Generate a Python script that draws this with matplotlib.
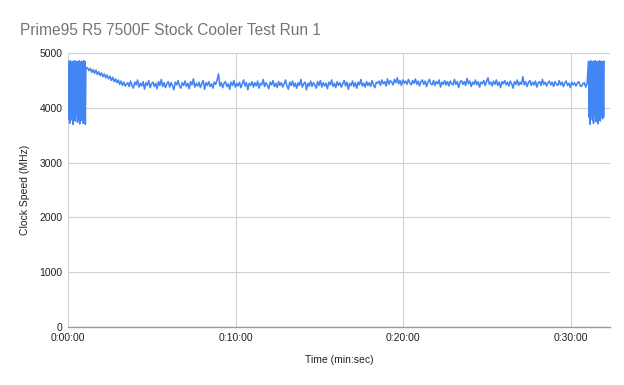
import numpy as np
import matplotlib
matplotlib.use("Agg")
import matplotlib.pyplot as plt
from matplotlib.ticker import FuncFormatter

plt.rcParams['font.family'] = ['Liberation Sans', 'DejaVu Sans']

title = "Prime95 R5 7500F Stock Cooler Test Run 1"
x_label = "Time (min:sec)"
y_label = "Clock Speed (MHz)"

# Start burst (0-64 s, every 2 s)
burst_start_t0, burst_start_step = 0, 2
burst_start = [4850, 3800, 4840, 3720, 4860, 3850, 4830, 3780, 4850, 3700,
               4840, 3820, 4860, 3760, 4830, 3880, 4850, 3740, 4840, 3800,
               4860, 3710, 4830, 3850, 4850, 3770, 4840, 3720, 4860, 3830,
               4850, 3700, 4740]

# Decay (70-205 s, every 5 s)
decay_t0, decay_step = 70, 5
decay = [4730, 4680, 4720, 4650, 4700, 4630, 4690, 4610, 4660, 4590,
         4640, 4570, 4620, 4550, 4600, 4530, 4580, 4500, 4560, 4480,
         4530, 4460, 4510, 4430, 4490, 4410, 4470, 4400]

# Steady load (214 s onward, every 5 s)
steady_t0, steady_step = 214, 5
steady = [4460, 4390, 4490, 4410, 4360, 4470, 4420, 4510, 4380, 4450,
          4400, 4480, 4340, 4460, 4410, 4500, 4370, 4440, 4470, 4390,
          4450, 4350, 4480, 4410, 4520, 4390, 4460, 4370, 4440, 4480,
          4380, 4460, 4410, 4330, 4470, 4420, 4500, 4400, 4360, 4460,
          4410, 4490, 4390, 4450, 4350, 4480, 4420, 4530, 4380, 4450,
          4400, 4470, 4370, 4440, 4500, 4340, 4460, 4410, 4480, 4390,
          4440, 4360, 4470, 4430, 4510, 4620, 4400, 4460, 4370, 4450,
          4480, 4390, 4440, 4340, 4470, 4410, 4500, 4380, 4450, 4400,
          4470, 4370, 4440, 4510, 4400, 4460, 4330, 4450, 4410, 4480,
          4380, 4460, 4400, 4490, 4360, 4450, 4420, 4520, 4390, 4460,
          4410, 4350, 4470, 4420, 4500, 4390, 4450, 4370, 4480, 4410,
          4460, 4380, 4440, 4510, 4400, 4340, 4470, 4410, 4490, 4390,
          4450, 4360, 4460, 4410, 4520, 4380, 4440, 4470, 4330, 4450,
          4400, 4490, 4390, 4460, 4420, 4360, 4480, 4410, 4500, 4380,
          4460, 4400, 4450, 4350, 4470, 4420, 4510, 4390, 4450, 4370,
          4480, 4410, 4460, 4380, 4440, 4500, 4400, 4470, 4340, 4450,
          4410, 4490, 4390, 4460, 4360, 4470, 4420, 4520, 4400, 4450,
          4380, 4480, 4410, 4460, 4390, 4500, 4420, 4370, 4470, 4450,
          4490, 4410, 4510, 4440, 4480, 4400, 4530, 4430, 4500, 4470,
          4420, 4520, 4460, 4550, 4440, 4500, 4410, 4510, 4450, 4490,
          4430, 4520, 4460, 4420, 4500, 4450, 4530, 4430, 4490, 4400,
          4480, 4510, 4430, 4490, 4390, 4470, 4520, 4440, 4420, 4500,
          4410, 4480, 4440, 4510, 4380, 4470, 4430, 4500, 4420, 4480,
          4400, 4490, 4440, 4420, 4520, 4430, 4480, 4370, 4470, 4500,
          4430, 4480, 4410, 4540, 4440, 4490, 4390, 4470, 4430, 4510,
          4420, 4480, 4380, 4470, 4440, 4500, 4410, 4480, 4550, 4430,
          4470, 4400, 4490, 4430, 4510, 4410, 4470, 4370, 4480, 4440,
          4500, 4420, 4470, 4400, 4490, 4440, 4360, 4480, 4430, 4510,
          4410, 4470, 4430, 4570, 4420, 4480, 4390, 4460, 4500, 4410,
          4470, 4420, 4490, 4380, 4460, 4480, 4410, 4520, 4430, 4470,
          4400, 4460, 4490, 4420, 4470, 4390, 4480, 4430, 4410, 4500,
          4420, 4470, 4390, 4460, 4490, 4410, 4450, 4370, 4470, 4420,
          4460, 4400, 4450, 4480, 4410, 4390, 4440, 4460, 4380, 4450]

# End burst (every 2 s)
burst_end_t0, burst_end_step = 1864, 2
burst_end = [4850, 3830, 4840, 3700, 4860, 3850, 4830, 3780, 4850, 3720,
             4840, 3860, 4860, 3750, 4830, 3880, 4850, 3710, 4840, 3820,
             4860, 3760, 4830, 3850, 4850, 3800, 4840, 3830, 4850]

x_ticks = [0, 600, 1200, 1800]
y_ticks = [0, 1000, 2000, 3000, 4000, 5000]

def times(t0, step, vals):
    return t0 + step * np.arange(len(vals))

t = np.concatenate([times(burst_start_t0, burst_start_step, burst_start),
                    times(decay_t0, decay_step, decay),
                    times(steady_t0, steady_step, steady),
                    times(burst_end_t0, burst_end_step, burst_end)])
v = np.concatenate([burst_start, decay, steady, burst_end])

fig = plt.figure(figsize=(6.24, 3.85), dpi=100)
ax = fig.add_axes([0.109, 0.1506, 0.869, 0.7114])

ax.plot(t, v, color='#4285F4', lw=1.15, zorder=3)

ax.set_xlim(0, 1942)
ax.set_ylim(0, 5000)
ax.set_xticks(x_ticks)
ax.set_yticks(y_ticks)

def fmt(x, pos):
    s = int(round(x))
    return f"{s // 3600}:{(s % 3600) // 60:02d}:{s % 60:02d}"

ax.xaxis.set_major_formatter(FuncFormatter(fmt))
ax.grid(True, color='#d0d0d0', lw=0.8, zorder=0)
for side in ['top', 'right', 'left']:
    ax.spines[side].set_visible(False)
ax.spines['bottom'].set_color('#9a9a9a')
ax.spines['bottom'].set_linewidth(1.0)
ax.tick_params(length=0, labelsize=7.5, colors='#222222', pad=4)

ax.set_xlabel(x_label, fontsize=7.5, color='#222222', labelpad=9)
ax.set_ylabel(y_label, fontsize=7.5, color='#222222', labelpad=7)
fig.text(0.032, 0.922, title, fontsize=11.2, color='#757575', ha='left', va='center')

fig.savefig('out.png', dpi=100)
